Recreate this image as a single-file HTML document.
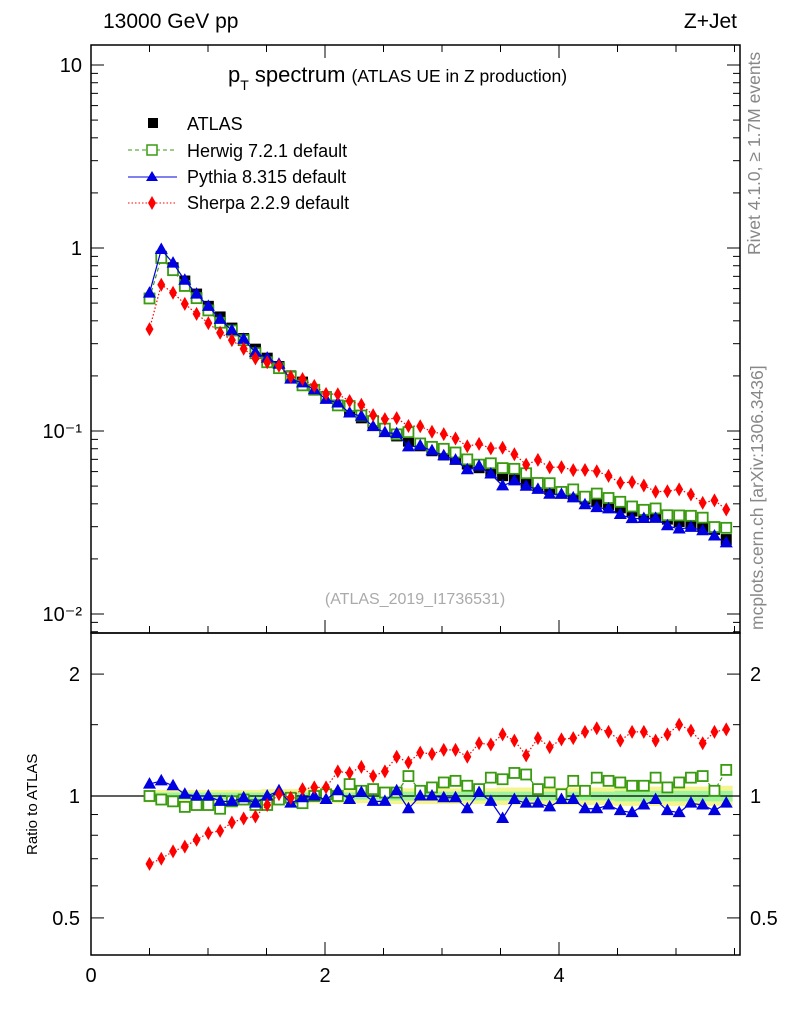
<!DOCTYPE html>
<html><head><meta charset="utf-8"><style>
body{margin:0;background:#fff;}
svg text{font-family:"Liberation Sans",sans-serif;}
</style></head><body>
<svg id="chart" width="786" height="1024" xmlns="http://www.w3.org/2000/svg">
<text x="103" y="28" font-size="21">13000 GeV pp</text>
<text x="737" y="28" font-size="21" text-anchor="end">Z+Jet</text>
<text x="0" y="0" font-size="17.5" fill="#888" transform="translate(760,255) rotate(-90)">Rivet 4.1.0, ≥ 1.7M events</text>
<text x="0" y="0" font-size="17.5" fill="#888" transform="translate(763,630) rotate(-90)">mcplots.cern.ch [arXiv:1306.3436]</text>
<g id="bands"></g>
<g id="marks"></g>
<rect x="91" y="45" width="649" height="588" fill="none" stroke="#000" stroke-width="1.5"/>
<rect x="91" y="633" width="649" height="322" fill="none" stroke="#000" stroke-width="1.5"/>
<g id="axes"></g>
<text x="228" y="82" font-size="22">p<tspan font-size="14" dy="8">T</tspan><tspan dy="-8"> spectrum </tspan><tspan font-size="17.5">(ATLAS UE in Z production)</tspan></text>
<g>
<rect x="148" y="118" width="10" height="10" fill="#000"/>
<text x="187" y="130" font-size="18">ATLAS</text>
<line x1="128" y1="150" x2="177" y2="150" stroke="#3a9a10" stroke-dasharray="4,3"/>
<rect x="147" y="145" width="10" height="10" fill="#fff" stroke="#3a9a10" stroke-width="1.5"/>
<text x="187" y="157" font-size="18">Herwig 7.2.1 default</text>
<line x1="128" y1="177" x2="177" y2="177" stroke="#0000e0"/>
<polygon points="152,171 158,181 146,181" fill="#0000e0"/>
<text x="187" y="183" font-size="18">Pythia 8.315 default</text>
<line x1="128" y1="203" x2="177" y2="203" stroke="#f00" stroke-dasharray="1.5,2"/>
<polygon points="152,196 156,203 152,210 148,203" fill="#f00"/>
<text x="187" y="209" font-size="18">Sherpa 2.2.9 default</text>
</g>
<text x="415" y="604" font-size="16" fill="#aaa" text-anchor="middle">(ATLAS_2019_I1736531)</text>
<text x="0" y="0" font-size="15" transform="translate(37,855) rotate(-90)">Ratio to ATLAS</text>
</svg>
<script>
const xStart = 0.5, xStep = 0.1006;
const atlas = [.53,.90,.78,.66,.56,.48,.42,.365,.32,.28,.25,.225,.20,.185,.168,.152,.138,.128,.118,.109,.101,.094,.088,.083,.078,.074,.070,.066,.063,.060,.057,.0545,.052,.050,.048,.046,.044,.0425,.041,.0395,.038,.0365,.035,.034,.033,.032,.031,.030,.029,.0255];
const herwigRatio = [1.00,.98,.97,.94,.95,.95,.93,.97,.98,.95,.95,.98,.99,.96,1.00,1.01,1.00,1.07,1.03,1.04,1.02,1.02,1.12,1.03,1.05,1.08,1.09,1.06,1.04,1.11,1.10,1.14,1.13,1.04,1.08,1.01,1.09,1.03,1.11,1.09,1.08,1.06,1.06,1.11,1.05,1.08,1.11,1.12,1.03,1.16];
const pythiaRatio = [1.07,1.09,1.06,1.01,1.00,1.00,.97,.97,.99,.96,1.00,1.03,.96,.99,1.00,.98,1.03,.98,1.02,.97,.97,1.03,.93,1.00,1.00,.99,.99,.93,1.02,.97,.88,.98,.96,.96,.94,.98,.98,.93,.93,.95,.92,.91,.95,.98,.92,.91,.96,.95,.92,.96];
const sherpaRatio = [.68,.70,.73,.75,.78,.81,.82,.86,.88,.89,.95,1.01,.99,1.04,1.05,1.05,1.15,1.14,1.18,1.12,1.15,1.25,1.21,1.28,1.27,1.30,1.30,1.25,1.35,1.34,1.42,1.37,1.26,1.39,1.32,1.38,1.39,1.44,1.47,1.44,1.37,1.44,1.44,1.37,1.42,1.50,1.45,1.35,1.44,1.46];
const bandInner = [.02,.02,.02,.02,.02,.02,.02,.02,.02,.02,.02,.02,.02,.02,.02,.02,.02,.02,.02,.02,.025,.025,.025,.025,.025,.025,.025,.025,.025,.025,.025,.025,.025,.025,.025,.025,.025,.025,.025,.025,.03,.03,.03,.03,.03,.03,.03,.03,.03,.03];
const bandOuter = [.035,.035,.035,.035,.035,.035,.035,.035,.035,.035,.04,.04,.04,.04,.04,.04,.04,.04,.04,.04,.045,.045,.045,.045,.045,.045,.045,.045,.045,.045,.05,.05,.05,.05,.05,.05,.05,.05,.05,.05,.055,.055,.055,.055,.055,.055,.055,.055,.055,.06];
const xTicks = [0,2,4];
const yTicksMain = [["10",10],["1",1],["10⁻¹",0.1],["10⁻²",0.01]];
const yTicksRatio = [["2",2],["1",1],["0.5",0.5]];

const NS="http://www.w3.org/2000/svg";
const X = v => 91 + v*117;
const Y = v => 248 - 183*Math.log10(v);
const R = v => 796 - 405*Math.log10(v);
function mk(tag, attrs, parent){const e=document.createElementNS(NS,tag);for(const k in attrs)e.setAttribute(k,attrs[k]);parent.appendChild(e);return e;}
const marks=document.getElementById('marks'), axes=document.getElementById('axes'), bands=document.getElementById('bands');
const xs = atlas.map((_,i)=>xStart+i*xStep);
const hw=5.9;
xs.forEach((x,i)=>{
  const x0=X(x)-hw, w=2*hw+0.5;
  let r=mk('rect',{x:x0,y:R(1+bandOuter[i]),width:w,height:R(1-bandOuter[i])-R(1+bandOuter[i]),fill:'#f5f590'},bands);
  
  
  r=mk('rect',{x:x0,y:R(1+bandInner[i]),width:w,height:R(1-bandInner[i])-R(1+bandInner[i]),fill:'#9cf59c'},bands);
  
  
});
let ln=mk('line',{x1:91,x2:740,y1:R(1),y2:R(1),stroke:'#000','stroke-width':1.2},bands);


xs.forEach((x,i)=>{
  const r=mk('rect',{x:X(x)-5.5,y:Y(atlas[i])-5.5,width:11,height:11,fill:'#000'},marks);
  
  
});
function series(ratio,color,dash,shape,name){
  for(const panel of ['main','ratio']){
    const yf = panel==='main' ? (i=>Y(atlas[i]*ratio[i])) : (i=>R(ratio[i]));
    const pts = xs.map((x,i)=>X(x)+','+yf(i)).join(' ');
    const pl=mk('polyline',{points:pts,fill:'none',stroke:color,'stroke-width':1.2,'stroke-dasharray':dash},marks);
    
    
    xs.forEach((x,i)=>{
      const cx=X(x), cy=yf(i); let e;
      if(shape==='sq') e=mk('rect',{x:cx-5,y:cy-5,width:10,height:10,fill:'#fff',stroke:color,'stroke-width':1.8},marks);
      else if(shape==='tri') e=mk('polygon',{points:`${cx},${cy-7} ${cx+6.5},${cy+4.5} ${cx-6.5},${cy+4.5}`,fill:color},marks);
      else e=mk('polygon',{points:`${cx},${cy-7} ${cx+4},${cy} ${cx},${cy+7} ${cx-4},${cy}`,fill:color},marks);
      
      
    });
  }
}
series(herwigRatio,'#3a9a10','4,3','sq','herwig');
series(pythiaRatio,'#0000e0','none','tri','pythia');
series(sherpaRatio,'#f00','1.5,2','dia','sherpa');
for(let v=0; v<=5.5; v+=0.5){
  const major = Math.abs(v-Math.round(v/2)*2)<1e-6;
  const L = major?13:7;
  for(const yb of [955,633]){
    let t=mk('line',{x1:X(v),x2:X(v),y1:yb,y2:yb-L,stroke:'#000'},axes);
    
    
  }
  let t2=mk('line',{x1:X(v),x2:X(v),y1:45,y2:45+L,stroke:'#000'},axes);
  
  
}
xTicks.forEach(v=>{
  const t=mk('text',{x:X(v),y:982,'font-size':20,'text-anchor':'middle'},axes);
  t.textContent=v;
  
  
});
for(let d=-3; d<=1; d++){
  for(let m=1;m<10;m++){
    const v=m*Math.pow(10,d); const y=Y(v);
    if(y<45||y>633) continue;
    const L=m===1?13:7;
    for(const [xa,dir] of [[91,1],[740,-1]]){
      const t=mk('line',{x1:xa,x2:xa+dir*L,y1:y,y2:y,stroke:'#000'},axes);
      
      
    }
  }
}
yTicksMain.forEach(([lab,v])=>{
  const t=mk('text',{x:82,y:Y(v)+7,'font-size':20,'text-anchor':'end'},axes);
  t.textContent=lab;
  
  
});
[0.5,0.6,0.7,0.8,0.9,1,1.5,2].forEach(v=>{
  const L=(v===0.5||v===1||v===2)?13:7;
  for(const [xa,dir] of [[91,1],[740,-1]]){
    const t=mk('line',{x1:xa,x2:xa+dir*L,y1:R(v),y2:R(v),stroke:'#000'},axes);
    
    
  }
});
yTicksRatio.forEach(([lab,v])=>{
  let t=mk('text',{x:80,y:R(v)+7,'font-size':20,'text-anchor':'end'},axes);
  t.textContent=lab;
  
  
  t=mk('text',{x:750,y:R(v)+7,'font-size':20},axes);
  t.textContent=lab;
  
  
});
</script>
</body></html>
